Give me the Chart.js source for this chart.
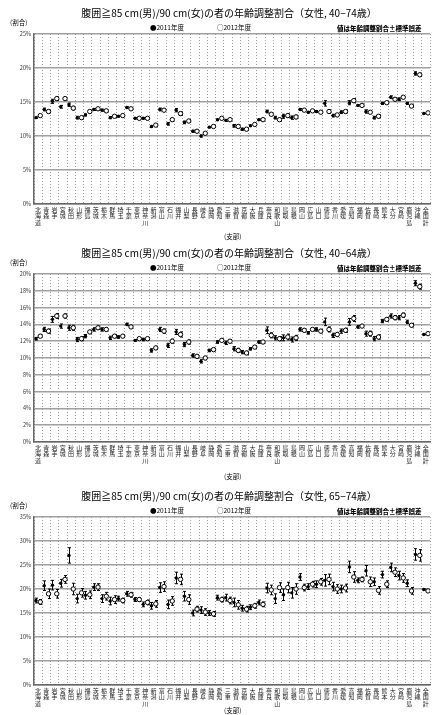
<!DOCTYPE html>
<html lang="ja">
<head>
<meta charset="utf-8">
<script src="https://cdn.jsdelivr.net/npm/chart.js@4.4.1/dist/chart.umd.min.js"></script>
<style>
  body { margin: 0; background: #fff; font-family: "Noto Sans CJK JP", sans-serif; color: #000; }
  .panel { position: absolute; left: 0; width: 435px; }
  .panel canvas { position: absolute; left: 0; top: 0; }
  .title { position: absolute; top: 6px; left: 229px; transform: translateX(-50%); white-space: nowrap; font-size: 10px; line-height: 13px; }
  .unit { position: absolute; left: 10px; top: 18px; font-size: 6.5px; line-height: 8px; }
  .leg { position: absolute; top: 23px; font-size: 6.5px; line-height: 8px; white-space: nowrap; }
  .note { position: absolute; left: 337px; top: 23.5px; font-size: 6.5px; line-height: 8px; font-weight: 900; white-space: nowrap; }
  .xname { position: absolute; left: 224px; font-size: 6.5px; line-height: 8px; }
</style>
</head>
<body>

<div class="panel" style="top:0;height:240px">
  <canvas id="chart1" width="435" height="240"></canvas>
  <div class="title">腹囲≧85 cm(男)/90 cm(女)の者の年齢調整割合（女性, 40−74歳）</div>
  <div class="unit">(割合)</div>
  <div class="leg" style="left:150px">●2011年度</div>
  <div class="leg" style="left:217px">○2012年度</div>
  <div class="note">値は年齢調整割合±標準誤差</div>
  <div class="xname" style="top:232px">(支部)</div>
</div>

<div class="panel" style="top:240px;height:243px">
  <canvas id="chart2" width="435" height="243"></canvas>
  <div class="title">腹囲≧85 cm(男)/90 cm(女)の者の年齢調整割合（女性, 40−64歳）</div>
  <div class="unit">(割合)</div>
  <div class="leg" style="left:150px">●2011年度</div>
  <div class="leg" style="left:217px">○2012年度</div>
  <div class="note">値は年齢調整割合±標準誤差</div>
  <div class="xname" style="top:232px">(支部)</div>
</div>

<div class="panel" style="top:483px;height:232px">
  <canvas id="chart3" width="435" height="232"></canvas>
  <div class="title">腹囲≧85 cm(男)/90 cm(女)の者の年齢調整割合（女性, 65−74歳）</div>
  <div class="unit">(割合)</div>
  <div class="leg" style="left:150px">●2011年度</div>
  <div class="leg" style="left:217px">○2012年度</div>
  <div class="note">値は年齢調整割合±標準誤差</div>
  <div class="xname" style="top:223px">(支部)</div>
</div>

<script>
// branches (支部), in the order of the x axis
const categories = ['北海道','青森','岩手','宮城','秋田','山形','福島','茨城','栃木','群馬','埼玉','千葉',
  '東京','神奈川','新潟','富山','石川','福井','山梨','長野','岐阜','静岡','愛知','三重','滋賀','京都',
  '大阪','兵庫','奈良','和歌山','鳥取','島根','岡山','広島','山口','徳島','香川','愛媛','高知','福岡',
  '佐賀','長崎','熊本','大分','宮崎','鹿児島','沖縄','全国計'];

// women 40-74
const age4074_2011 = [12.7,13.9,15.1,14.3,14.6,12.7,13.1,13.9,13.8,12.7,12.9,14.2,12.6,12.6,11.4,13.9,
  11.8,13.8,12.0,10.7,10.0,11.3,12.4,12.3,11.5,11.0,11.5,12.4,13.6,12.7,12.9,12.7,13.9,13.5,13.6,14.8,
  13.0,13.5,14.9,14.5,13.6,12.7,14.8,15.7,15.4,14.8,19.2,13.3];
const age4074_2012 = [13.0,13.6,15.5,15.5,14.1,12.7,13.6,14.0,13.7,12.9,13.0,14.0,12.6,12.6,11.6,13.8,
  12.4,13.3,12.2,10.7,10.4,11.4,12.6,12.4,11.4,11.0,11.7,12.4,13.2,12.4,13.0,12.8,13.8,13.7,13.5,13.6,
  13.1,13.6,15.2,14.5,13.5,12.9,14.9,15.4,15.7,14.4,19.0,13.4];
const age4074_se2011 = [0.1,0.2,0.3,0.2,0.25,0.2,0.15,0.15,0.15,0.15,0.1,0.1,0.1,0.1,0.15,0.2,
  0.2,0.25,0.2,0.15,0.15,0.1,0.1,0.15,0.2,0.15,0.1,0.1,0.2,0.2,0.3,0.25,0.15,0.1,0.15,0.4,
  0.2,0.2,0.3,0.1,0.25,0.2,0.15,0.2,0.2,0.15,0.25,0.03];
const age4074_se2012 = [0.1,0.2,0.25,0.2,0.25,0.2,0.15,0.15,0.15,0.15,0.1,0.1,0.1,0.1,0.15,0.2,
  0.2,0.25,0.2,0.15,0.15,0.1,0.1,0.15,0.2,0.15,0.1,0.1,0.2,0.2,0.25,0.25,0.15,0.1,0.15,0.25,
  0.2,0.2,0.3,0.1,0.2,0.2,0.15,0.2,0.2,0.15,0.25,0.03];

// women 40-64
const age4064_2011 = [12.3,13.4,14.6,13.8,13.6,12.2,12.6,13.4,13.4,12.4,12.5,14.0,12.1,12.2,10.9,13.4,
  11.5,13.1,11.6,10.3,9.6,10.9,11.9,11.8,11.1,10.7,11.1,11.9,13.3,12.4,12.4,12.2,13.4,13.0,13.4,14.3,
  12.7,13.2,14.3,13.7,12.9,12.3,14.4,15.0,14.8,14.3,18.9,12.8];
const age4064_2012 = [12.6,13.2,15.0,15.0,13.6,12.3,13.1,13.6,13.4,12.6,12.6,13.7,12.3,12.3,11.2,13.2,
  12.0,12.8,11.9,10.2,10.0,11.0,12.1,12.0,10.9,10.6,11.3,11.9,12.7,12.3,12.5,12.4,13.3,13.4,13.2,13.4,
  12.8,13.3,14.7,13.8,12.9,12.5,14.6,14.8,15.1,13.9,18.5,12.9];
const age4064_se2011 = [0.15,0.25,0.35,0.25,0.3,0.25,0.2,0.2,0.2,0.2,0.15,0.15,0.1,0.15,0.2,0.25,
  0.25,0.3,0.25,0.2,0.2,0.15,0.15,0.2,0.25,0.2,0.15,0.15,0.4,0.25,0.35,0.3,0.2,0.15,0.2,0.45,
  0.25,0.25,0.4,0.15,0.3,0.25,0.2,0.25,0.25,0.2,0.3,0.04];
const age4064_se2012 = [0.15,0.25,0.3,0.25,0.3,0.25,0.2,0.2,0.2,0.2,0.15,0.15,0.1,0.15,0.2,0.25,
  0.25,0.3,0.25,0.2,0.2,0.15,0.15,0.2,0.25,0.2,0.15,0.15,0.3,0.25,0.35,0.3,0.2,0.15,0.2,0.3,
  0.25,0.25,0.35,0.15,0.3,0.25,0.2,0.25,0.25,0.2,0.3,0.04];

// women 65-74
const age6574_2011 = [17.6,20.7,20.8,21.2,27.0,18.0,18.7,20.4,18.0,17.5,18.0,19.0,17.8,16.8,16.5,20.3,
  16.8,22.3,18.5,15.0,15.6,15.0,18.2,18.2,17.2,16.0,16.2,17.2,20.2,18.0,18.8,19.2,22.5,20.5,21.0,21.8,
  20.5,20.0,24.6,21.8,23.8,21.5,23.0,24.5,22.8,21.2,27.2,19.9];
const age6574_2012 = [17.3,19.0,19.0,22.0,20.0,19.2,18.8,20.4,18.5,17.8,17.6,18.8,17.8,17.2,16.9,20.5,
  17.5,22.0,17.8,15.8,15.2,14.8,17.8,17.6,16.7,15.8,16.5,16.8,19.8,20.3,20.3,20.0,20.3,21.0,21.5,22.0,
  20.0,20.2,22.5,22.0,21.5,19.7,21.0,23.5,22.3,19.6,27.0,19.6];
const age6574_se2011 = [0.5,1.0,1.0,0.8,1.6,0.9,0.8,0.7,0.8,0.8,0.5,0.5,0.4,0.5,0.7,1.0,
  0.9,1.2,1.0,0.6,0.7,0.5,0.5,0.7,0.9,0.6,0.5,0.5,1.0,1.0,1.2,1.1,0.7,0.6,0.7,1.2,
  0.9,0.8,1.2,0.5,1.1,0.8,0.7,0.9,0.9,0.7,1.2,0.1];
const age6574_se2012 = [0.5,1.0,0.9,0.8,1.2,0.9,0.8,0.7,0.8,0.8,0.5,0.5,0.4,0.5,0.7,1.0,
  0.9,1.1,1.0,0.6,0.7,0.5,0.5,0.7,0.9,0.6,0.5,0.5,1.0,1.0,1.1,1.1,0.7,0.6,0.7,1.1,
  0.9,0.8,1.1,0.5,1.0,0.8,0.7,0.9,0.9,0.7,1.2,0.1];

const FONT = '"Noto Sans CJK JP", sans-serif';

// vertical error bar (value ± standard error) behind every marker
const errorBars = {
    id: 'errorBars',
    beforeDatasetsDraw(chart) {
        const ctx = chart.ctx;
        const yScale = chart.scales.y;
        ctx.save();
        ctx.strokeStyle = '#000';
        ctx.lineWidth = 1;
        chart.data.datasets.forEach((ds, di) => {
            const meta = chart.getDatasetMeta(di);
            meta.data.forEach((pt, i) => {
                const v = ds.data[i].y;
                const e = ds.errors[i];
                const x = Math.round(pt.x) + 0.5;
                const top = yScale.getPixelForValue(v + e);
                const bot = yScale.getPixelForValue(v - e);
                ctx.beginPath();
                ctx.moveTo(x, top); ctx.lineTo(x, bot);
                ctx.moveTo(x - 1.5, top); ctx.lineTo(x + 1.5, top);
                ctx.moveTo(x - 1.5, bot); ctx.lineTo(x + 1.5, bot);
                ctx.stroke();
            });
        });
        ctx.restore();
    }
};

function makeChart(id, v2011, v2012, se2011, se2012, yMax, yStep, axisHeight) {
    const ctx = document.getElementById(id).getContext('2d');
    new Chart(ctx, {
        type: 'scatter',
        data: {
            datasets: [{
                label: '2011年度',
                data: v2011.map((v, i) => ({ x: i - 0.26, y: v })),
                errors: se2011,
                pointStyle: 'circle',
                pointRadius: 1.7,
                backgroundColor: '#000',
                borderWidth: 0
            }, {
                label: '2012年度',
                data: v2012.map((v, i) => ({ x: i + 0.26, y: v })),
                errors: se2012,
                pointStyle: 'circle',
                pointRadius: 2.2,
                backgroundColor: '#fff',
                borderColor: '#000',
                borderWidth: 1
            }]
        },
        options: {
            responsive: false,
            animation: false,
            events: [],
            devicePixelRatio: 1,
            layout: { padding: { top: 34, right: 1, left: 0, bottom: 0 } },
            plugins: { legend: { display: false }, tooltip: { enabled: false } },
            scales: {
                x: {
                    type: 'linear',
                    min: -0.5,
                    max: categories.length - 0.5,
                    afterBuildTicks: axis => { axis.ticks = categories.map((c, i) => ({ value: i })); },
                    afterFit: scale => { scale.height = axisHeight; },
                    ticks: {
                        autoSkip: false,
                        maxRotation: 0,
                        minRotation: 0,
                        padding: 2,
                        color: '#222',
                        font: { family: FONT, size: 6, lineHeight: 1.1 },
                        callback: value => categories[value] ? categories[value].split('') : ''
                    },
                    grid: { offset: true, color: '#999', lineWidth: 1, drawTicks: false },
                    border: { color: '#666', width: 1.5, dash: [1, 2] }
                },
                y: {
                    min: 0,
                    max: yMax,
                    afterFit: scale => { scale.width = 34; },
                    ticks: {
                        stepSize: yStep,
                        padding: 3,
                        color: '#333',
                        font: { family: FONT, size: 5.5 },
                        callback: value => value + '%'
                    },
                    grid: { color: '#a0a0a0', lineWidth: 1.5, drawTicks: false },
                    border: { color: '#666', width: 1.5 }
                }
            }
        },
        plugins: [errorBars]
    });
}

makeChart('chart1', age4074_2011, age4074_2012, age4074_se2011, age4074_se2012, 25, 5, 36);
makeChart('chart2', age4064_2011, age4064_2012, age4064_se2011, age4064_se2012, 20, 2, 41);
makeChart('chart3', age6574_2011, age6574_2012, age6574_se2011, age6574_se2012, 35, 5, 30);
</script>
</body>
</html>
